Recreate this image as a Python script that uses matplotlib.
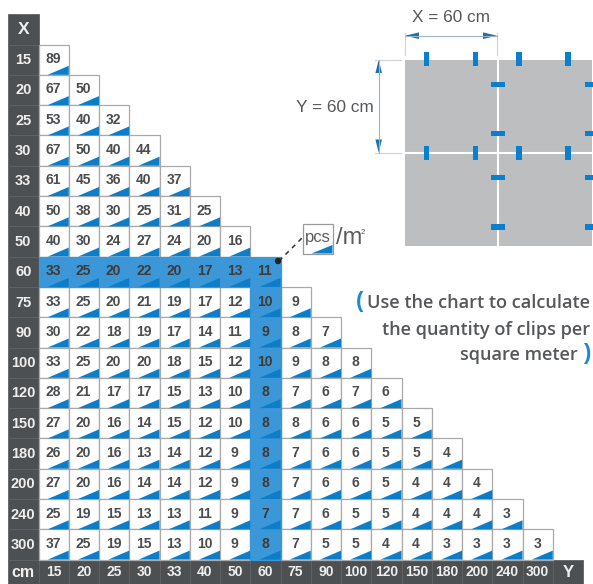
"""Clip quantity chart: pieces per square metre for tile size X by Y."""
import matplotlib

matplotlib.use("Agg")

import matplotlib.pyplot as plt
from matplotlib.patches import Circle, Polygon, Rectangle

X_LABELS = ["15", "20", "25", "30", "33", "40", "50", "60", "75", "90", "100",
            "120", "150", "180", "200", "240", "300"]
Y_LABELS = ["15", "20", "25", "30", "33", "40", "50", "60", "75", "90", "100",
            "120", "150", "180", "200", "240", "300"]

ROW_15 = [89]
ROW_20 = [67, 50]
ROW_25 = [53, 40, 32]
ROW_30 = [67, 50, 40, 44]
ROW_33 = [61, 45, 36, 40, 37]
ROW_40 = [50, 38, 30, 25, 31, 25]
ROW_50 = [40, 30, 24, 27, 24, 20, 16]
ROW_60 = [33, 25, 20, 22, 20, 17, 13, 11]
ROW_75 = [33, 25, 20, 21, 19, 17, 12, 10, 9]
ROW_90 = [30, 22, 18, 19, 17, 14, 11, 9, 8, 7]
ROW_100 = [33, 25, 20, 20, 18, 15, 12, 10, 9, 8, 8]
ROW_120 = [28, 21, 17, 17, 15, 13, 10, 8, 7, 6, 7, 6]
ROW_150 = [27, 20, 16, 14, 15, 12, 10, 8, 8, 6, 6, 5, 5]
ROW_180 = [26, 20, 16, 13, 14, 12, 9, 8, 7, 6, 6, 5, 5, 4]
ROW_200 = [27, 20, 16, 14, 14, 12, 9, 8, 7, 6, 6, 5, 4, 4, 4]
ROW_240 = [25, 19, 15, 13, 13, 11, 9, 7, 7, 6, 5, 5, 4, 4, 4, 3]
ROW_300 = [37, 25, 19, 15, 13, 10, 9, 8, 7, 5, 5, 4, 4, 3, 3, 3, 3]
ROWS = [ROW_15, ROW_20, ROW_25, ROW_30, ROW_33, ROW_40, ROW_50, ROW_60, ROW_75,
        ROW_90, ROW_100, ROW_120, ROW_150, ROW_180, ROW_200, ROW_240, ROW_300]

HIGHLIGHT = "60"
NOTE_LINES = ["Use the chart to calculate", "the quantity of clips per", "square meter"]

DARK = "#4d5052"
DARK_EDGE = "#5f6264"
BLUE = "#0b7dc9"
BLUE_LIGHT = "#3b97d7"
CLIP = "#0a7fcf"
ARROW = "#1f6fa9"
TILE = "#bcbebf"
TEXT = "#4a4c4e"
EDGE = "#a9a9a9"

LEFT, TOP = 38.5, 44.5
CELL_W, CELL_H = 30.25, 30.3
HEADER_X = 8.0
BOLD = dict(family="Liberation Sans", fontweight="bold")

fig = plt.figure(figsize=(5.93, 5.84), dpi=100)
ax = fig.add_axes([0, 0, 1, 1])
ax.set_xlim(0, 593)
ax.set_ylim(584, 0)
ax.axis("off")


def dark_cell(x, y, w, h, label, size=10.5):
    ax.add_patch(Rectangle((x, y), w, h, fc=DARK, ec=DARK_EDGE, lw=0.6))
    ax.text(x + w / 2, y + h / 2 + 0.5, label, color="#eeeeee", fontsize=size,
            ha="center", va="center", **BOLD)


def value_cell(x, y, value, hot):
    ax.add_patch(Rectangle((x, y), CELL_W, CELL_H, fc=BLUE_LIGHT if hot else "white",
                           ec=BLUE_LIGHT if hot else EDGE, lw=0.9, zorder=3 if hot else 2))
    ax.add_patch(Polygon([(x + CELL_W, y + CELL_H), (x + CELL_W - 21, y + CELL_H),
                          (x + CELL_W, y + CELL_H - 9)], fc=BLUE, ec="none", zorder=4))
    ax.text(x + CELL_W / 2 - 0.5, y + CELL_H / 2 - 0.5, str(value), fontsize=10,
            color="#3f3a36" if hot else TEXT, ha="center", va="center", zorder=5, **BOLD)


# the triangular table
dark_cell(HEADER_X, TOP - CELL_H, LEFT - HEADER_X, CELL_H, "X", 12.5)
for r, (label, row) in enumerate(zip(X_LABELS, ROWS)):
    y = TOP + r * CELL_H
    dark_cell(HEADER_X, y, LEFT - HEADER_X, CELL_H, label)
    for c, value in enumerate(row):
        hot = label == HIGHLIGHT or (Y_LABELS[c] == HIGHLIGHT and r > X_LABELS.index(HIGHLIGHT))
        value_cell(LEFT + c * CELL_W, y, value, hot)

bottom = TOP + len(ROWS) * CELL_H
foot_h = 584 - bottom
dark_cell(HEADER_X, bottom, LEFT - HEADER_X, foot_h, "cm", 11.5)
for c, label in enumerate(Y_LABELS):
    dark_cell(LEFT + c * CELL_W, bottom, CELL_W, foot_h, label, 10)
dark_cell(LEFT + len(Y_LABELS) * CELL_W, bottom, CELL_W, foot_h, "Y", 12)

# tile layout sketch
ax.add_patch(Rectangle((405, 60), 187, 186, fc=TILE, ec="none"))
ax.plot([497.7, 497.7], [60, 246], color="white", lw=1.5)
ax.plot([405, 592], [152.7, 152.7], color="white", lw=1.5)
for cx in (426.3, 475.3, 519, 568):
    for cy in (58.7, 153):
        ax.add_patch(Rectangle((cx - 2.8, cy - 7), 5.6, 14, fc=CLIP, ec="none", zorder=3))
for cy in (84.3, 133.7, 177.3, 227):
    ax.add_patch(Rectangle((490.7, cy - 2.8), 14.3, 5.6, fc=CLIP, ec="none", zorder=3))
    ax.add_patch(Rectangle((585, cy - 2.8), 8, 5.6, fc=CLIP, ec="none", zorder=3))

ax.plot([405, 405], [33, 55], color="#cfd2d3", lw=0.8)
ax.plot([497, 497], [33, 55], color="#cfd2d3", lw=0.8)
ax.plot([405, 497], [35.7, 35.7], color="#9fb4c2", lw=0.8)
ax.add_patch(Polygon([(405, 35.7), (419, 32.4), (419, 39)], fc=ARROW, ec="none"))
ax.add_patch(Polygon([(497, 35.7), (483, 32.4), (483, 39)], fc=ARROW, ec="none"))
ax.plot([375, 401], [60, 60], color="#cfd2d3", lw=0.8)
ax.plot([375, 401], [152.5, 152.5], color="#cfd2d3", lw=0.8)
ax.plot([378.7, 378.7], [60, 152.5], color="#9fb4c2", lw=0.8)
ax.add_patch(Polygon([(378.7, 60), (375.4, 73), (382, 73)], fc=ARROW, ec="none"))
ax.add_patch(Polygon([(378.7, 152.5), (375.4, 139.5), (382, 139.5)], fc=ARROW, ec="none"))
ax.text(450.5, 17, "X = 60 cm", fontsize=12.4, color="#55575a", ha="center", va="center",
        family="Liberation Sans")
ax.text(334.5, 107, "Y = 60 cm", fontsize=12.4, color="#55575a", ha="center", va="center",
        family="Liberation Sans")

# legend key
ax.add_patch(Rectangle((302.5, 223.5), 30, 30, fc="white", ec="#9a9a9a", lw=0.9))
ax.add_patch(Polygon([(332.5, 253.5), (311.5, 253.5), (332.5, 245)], fc=BLUE, ec="none"))
ax.text(317.5, 237.5, "pcs", fontsize=12, color="#5a5c5e", ha="center", va="center",
        family="Liberation Sans")
ax.text(336, 238.5, "/m", fontsize=17, color="#5a5c5e", ha="left", va="center",
        family="Liberation Sans")
ax.text(361, 232, "2", fontsize=5.5, color="#5a5c5e", ha="left", va="center",
        family="Liberation Sans")
ax.plot([279, 302], [261, 238], color="#333333", lw=1.1, ls=(0, (3, 3)), zorder=6)
ax.add_patch(Circle((278, 261), 3.2, fc="#222222", ec="none", zorder=7))

# note on the right
NOTE = dict(family="Open Sans", fontsize=13.05, color="#55575a", va="center", ha="right",
            fontweight="semibold")
ax.text(590, 303, NOTE_LINES[0], **NOTE)
ax.text(590, 330, NOTE_LINES[1], **NOTE)
ax.text(578, 355, NOTE_LINES[2], **NOTE)
ax.text(355.5, 302, "(", family="Liberation Sans", fontsize=16, color="#1a8ad4", fontweight="bold",
        va="center", ha="left")
ax.text(590.5, 354, ")", family="Liberation Sans", fontsize=16, color="#1a8ad4", fontweight="bold",
        va="center", ha="right")

fig.savefig("out.png", dpi=100)
plt.close(fig)
